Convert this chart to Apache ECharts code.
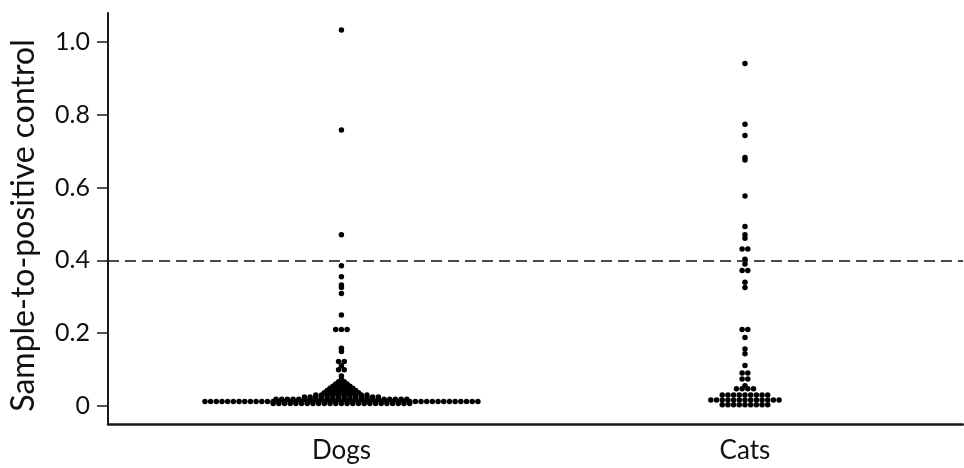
<!DOCTYPE html>
<html><head><meta charset="utf-8">
<script src="https://cdn.jsdelivr.net/npm/echarts@6/dist/echarts.min.js"></script>
<style>html,body{margin:0;padding:0;background:#fff}#c{width:964px;height:468px}</style>
</head><body><div id="c"></div>
<script>
// ---- data ----
const categories = ['Dogs', 'Cats'];
const categoryPositions = [0.273, 0.745];   // where each group sits on the 0..1 x scale
const yTicks = [0, 0.2, 0.4, 0.6, 0.8, 1.0];
const cutoff = 0.4;

// distinct values and how many animals had each value
const dogValues = [1.033, 0.758, 0.470, 0.385, 0.355, 0.332, 0.325, 0.309, 0.250, 0.210,
                   0.158, 0.149, 0.122, 0.110, 0.099, 0.082, 0.072, 0.066, 0.060, 0.054,
                   0.048, 0.042, 0.036, 0.030, 0.024, 0.018, 0.012, 0.0065];
const dogCounts = [1, 1, 1, 1, 1, 1, 1, 1, 1, 3,
                   1, 1, 2, 1, 2, 1, 1, 2, 3, 4,
                   5, 6, 7, 10, 14, 24, 49, 25];

const catValues = [0.941, 0.774, 0.743, 0.683, 0.676, 0.577, 0.493, 0.470, 0.461, 0.431,
                   0.403, 0.390, 0.372, 0.340, 0.325, 0.210, 0.188, 0.156, 0.143, 0.111,
                   0.090, 0.074, 0.055, 0.047, 0.030, 0.016, 0.003];
const catCounts = [1, 1, 1, 1, 1, 1, 1, 1, 1, 2,
                   1, 1, 2, 1, 1, 2, 1, 1, 1, 1,
                   2, 2, 1, 4, 9, 13, 9];

// ---- layout ----
const GRID = { left: 106, right: 1, top: 13, bottom: 44 };
const FONT = 'Lato';
const chart = echarts.init(document.getElementById('c'), null, { renderer: 'canvas' });
const plotW = chart.getWidth() - GRID.left - GRID.right;
const DOT = 5.5;    // symbol diameter, px
const STEP = 5.7;   // horizontal spacing of dots in a row, px

// dot-plot layout: every value forms a row centred on its group
function swarm(values, counts, center) {
  const pts = [];
  values.forEach((v, r) => {
    const n = counts[r];
    for (let i = 0; i < n; i++) {
      const dx = (i - (n - 1) / 2) * STEP;
      pts.push([center + dx / plotW, v]);
    }
  });
  return pts;
}

const option = {
  animation: false,
  backgroundColor: '#fff',
  grid: GRID,
  xAxis: {
    type: 'value', min: 0, max: 1,
    axisLine: { show: true, onZero: false, lineStyle: { color: '#1a1a1a', width: 2.5 } },
    axisTick: { show: false },
    splitLine: { show: false },
    axisLabel: {
      customValues: categoryPositions,
      formatter: v => {
        let best = 0;
        categoryPositions.forEach((p, i) => { if (Math.abs(p - v) < Math.abs(categoryPositions[best] - v)) best = i; });
        return categories[best];
      },
      margin: 14, fontFamily: FONT, fontSize: 26, color: '#111'
    }
  },
  yAxis: {
    type: 'value', min: -0.05, max: 1.08,
    name: 'Sample-to-positive control',
    nameLocation: 'middle', nameGap: 68,
    nameTextStyle: { fontFamily: FONT, fontSize: 32, color: '#111', padding: [0, 14, 0, 0] },
    axisLine: { show: true, onZero: false, lineStyle: { color: '#1a1a1a', width: 2 } },
    axisTick: { show: true, customValues: yTicks, length: 11, lineStyle: { color: '#1a1a1a', width: 1.5 } },
    splitLine: { show: false },
    axisLabel: {
      customValues: yTicks,
      formatter: v => (v === 0 ? '0' : v.toFixed(1)),
      margin: 18, fontFamily: FONT, fontSize: 25, color: '#111'
    }
  },
  series: [
    {
      name: categories[0], type: 'scatter', symbol: 'circle', symbolSize: DOT,
      itemStyle: { color: '#000', opacity: 1 },
      data: swarm(dogValues, dogCounts, categoryPositions[0]),
      markLine: {
        silent: true, symbol: ['none', 'none'],
        label: { show: false },
        lineStyle: { type: [11, 6], width: 1.6, color: '#111', opacity: 1 },
        data: [{ yAxis: cutoff }]
      }
    },
    {
      name: categories[1], type: 'scatter', symbol: 'circle', symbolSize: DOT,
      itemStyle: { color: '#000', opacity: 1 },
      data: swarm(catValues, catCounts, categoryPositions[1])
    }
  ]
};
chart.setOption(option);
</script>
</body></html>
